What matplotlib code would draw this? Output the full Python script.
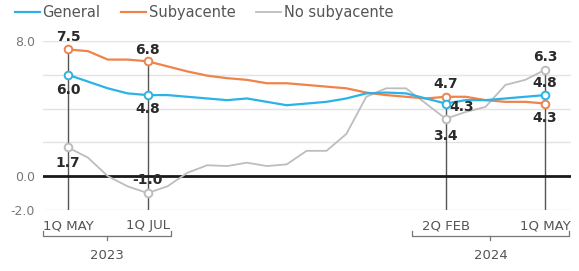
import matplotlib.pyplot as plt
from matplotlib.lines import Line2D

plt.rcParams['font.family'] = ['Liberation Sans Narrow', 'DejaVu Sans']

# semi-monthly points, 1Q MAY 2023 .. 1Q MAY 2024
general = [6.0, 5.6, 5.2, 4.9, 4.8, 4.8, 4.7, 4.6, 4.5, 4.6, 4.4, 4.2, 4.3,
           4.4, 4.6, 4.9, 4.95, 4.9, 4.6, 4.3, 4.5, 4.5, 4.6, 4.7, 4.8]
subyacente = [7.5, 7.4, 6.9, 6.9, 6.8, 6.5, 6.2, 5.95, 5.8, 5.7, 5.5, 5.5, 5.4,
              5.3, 5.2, 4.95, 4.8, 4.7, 4.6, 4.7, 4.7, 4.5, 4.4, 4.4, 4.3]
no_subyacente = [1.7, 1.1, 0.0, -0.6, -1.0, -0.6, 0.2, 0.65, 0.6, 0.8, 0.6, 0.7, 1.5,
                 1.5, 2.5, 4.7, 5.2, 5.2, 4.3, 3.4, 3.8, 4.1, 5.4, 5.7, 6.3]
x = list(range(len(general)))

marked_idx = [0, 4, 19, 24]
tick_labels = ["1Q MAY", "1Q JUL", "2Q FEB", "1Q MAY"]
years = ["2023", "2024"]

BLUE = "#2bb3e6"
ORANGE = "#f0834a"
GRAY = "#bdbdbd"
DARK = "#2a2a2a"

fig = plt.figure(figsize=(5.79, 2.71), dpi=100)
ax = fig.add_axes([43 / 579, 1 - 210 / 271, 528 / 579, 169 / 271])

ax.set_xlim(-1.26, 25.3)
ax.set_ylim(-2, 8)
ax.set_yticks([-2, 0, 2, 4, 6, 8])
ax.set_yticklabels(["-2.0", "0.0", "", "", "", "8.0"])
ax.tick_params(axis="y", length=0, pad=6, labelsize=9, labelcolor="#777777")
ax.set_xticks([])
ax.grid(axis="y", color="#e3e3e3", lw=1)
ax.set_axisbelow(True)
for s in ax.spines.values():
    s.set_visible(False)
ax.axhline(0, color="#1a1a1a", lw=2, zorder=2)

# vertical marker lines
for i in marked_idx:
    top = max(general[i], subyacente[i], no_subyacente[i])
    ax.plot([i, i], [-2, top], color="#555555", lw=1, zorder=1.5)

ax.plot(x, no_subyacente, color=GRAY, lw=1.3, zorder=3)
ax.plot(x, subyacente, color=ORANGE, lw=1.6, zorder=4)
ax.plot(x, general, color=BLUE, lw=1.6, zorder=5)

for series, col, z in [(no_subyacente, GRAY, 6), (subyacente, ORANGE, 7), (general, BLUE, 8)]:
    ax.plot(marked_idx, [series[i] for i in marked_idx], 'o', ms=5.5,
            mfc="white", mec=col, mew=1.4, zorder=z, ls="none")

# value labels: (index, series, dx px, dy px)
labels = [
    (0, subyacente, 0, 12), (0, general, 0, -15), (0, no_subyacente, 0, -16),
    (4, subyacente, 0, 11), (4, general, 0, -14), (4, no_subyacente, 0, 13),
    (19, subyacente, 0, 13), (19, general, 16, -3), (19, no_subyacente, 0, -17),
    (24, no_subyacente, 0, 13), (24, general, 0, 12), (24, subyacente, 0, -14),
]
for i, series, dx, dy in labels:
    ax.annotate(f"{series[i]:.1f}", (i, series[i]), xytext=(dx * 0.72, dy * 0.72),
                textcoords="offset points", ha="center", va="center",
                fontsize=10, fontweight="bold", color=DARK, zorder=10)

# x labels and year brackets
for i, lab in zip(marked_idx, tick_labels):
    ax.text(i, -2.94, lab, ha="center", va="center", fontsize=9.5,
            color="#555555", clip_on=False)

brackets = [(-1.26, 5.2, years[0]), (17.3, 25.2, years[1])]
for x0, x1, yr in brackets:
    ax.plot([x0, x0, x1, x1], [-3.25, -3.53, -3.53, -3.25], color="#777777",
            lw=0.9, clip_on=False)
    xm = (x0 + x1) / 2
    ax.plot([xm, xm], [-3.53, -3.8], color="#777777", lw=0.9, clip_on=False)
    ax.text(xm, -4.7, yr, ha="center", va="center", fontsize=9.5,
            color="#555555", clip_on=False)

handles = [Line2D([], [], color=BLUE, lw=1.6),
           Line2D([], [], color=ORANGE, lw=1.6),
           Line2D([], [], color=GRAY, lw=1.3)]
fig.legend(handles, ["General", "Subyacente", "No subyacente"], ncol=3,
           loc="upper left", bbox_to_anchor=(0.003, 1.03), frameon=False,
           fontsize=10.5, handlelength=1.7, handletextpad=0.2,
           columnspacing=1.4, labelcolor="#555555")

fig.savefig("out.png", dpi=100)
